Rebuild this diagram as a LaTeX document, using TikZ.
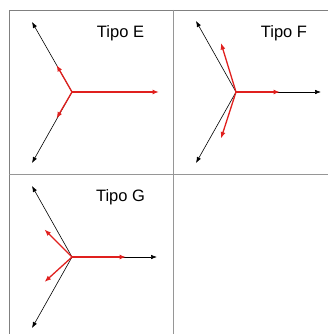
\documentclass[tikz,border=0pt]{standalone}
\usepackage{fontspec}
\setmainfont{Liberation Sans}
\usetikzlibrary{arrows.meta}
\definecolor{vecred}{RGB}{224,32,30}
\definecolor{gridgray}{RGB}{150,150,150}
\begin{document}
\begin{tikzpicture}[x=1pt, y=-1pt,
  vec/.style={-{Latex[length=6pt,width=4.5pt]}, line width=0.6pt, black},
  rvec/.style={-{Latex[length=6.5pt,width=5pt]}, line width=1.3pt, vecred},
  title/.style={font=\fontsize{16.5}{18}\selectfont, inner sep=0pt}]
  \useasboundingbox (0,0) rectangle (328,334);

  % grid
  \draw[line width=0.8pt, gray] (9,334) -- (9,10) -- (328,10);
  \draw[line width=1pt, gridgray] (173.5,10) -- (173.5,334);
  \draw[line width=1pt, gridgray] (9,174.7) -- (328,174.7);

  % Tipo E
  \node[title] (tE) at (120.5,33.5) {Tipo E};
  \coordinate (E) at (72,92);
  \coordinate (Eu) at (32,22);
  \coordinate (Ed) at (32,163);
  \coordinate (Eru) at (56.5,65);
  \coordinate (Erd) at (56.5,118.5);
  \coordinate (Err) at (159,92);
  \draw[vec] (E) -- (Eu);
  \draw[vec] (E) -- (Ed);
  \draw[rvec] (E) -- (Err);
  \draw[rvec] (E) -- (Eru);
  \draw[rvec] (E) -- (Erd);

  % Tipo F
  \node[title] (tF) at (284,33.5) {Tipo F};
  \coordinate (F) at (236,92);
  \coordinate (Fu) at (196,21);
  \coordinate (Fd) at (196,163);
  \coordinate (Fr) at (321,92);
  \coordinate (Fru) at (221,43);
  \coordinate (Frd) at (221,138.5);
  \coordinate (Frr) at (280,92);
  \draw[vec] (F) -- (Fu);
  \draw[vec] (F) -- (Fd);
  \draw[vec] (F) -- (Fr);
  \draw[rvec] (F) -- (Frr);
  \draw[rvec] (F) -- (Fru);
  \draw[rvec] (F) -- (Frd);

  % Tipo G
  \node[title] (tG) at (120.5,197) {Tipo G};
  \coordinate (G) at (72,257);
  \coordinate (Gu) at (32,186);
  \coordinate (Gd) at (32,328);
  \coordinate (Gr) at (157,257);
  \coordinate (Gru) at (44.5,229.5);
  \coordinate (Grd) at (44.5,282);
  \coordinate (Grr) at (126,257);
  \draw[vec] (G) -- (Gu);
  \draw[vec] (G) -- (Gd);
  \draw[vec] (G) -- (Gr);
  \draw[rvec] (G) -- (Grr);
  \draw[rvec] (G) -- (Gru);
  \draw[rvec] (G) -- (Grd);
\end{tikzpicture}
\end{document}
